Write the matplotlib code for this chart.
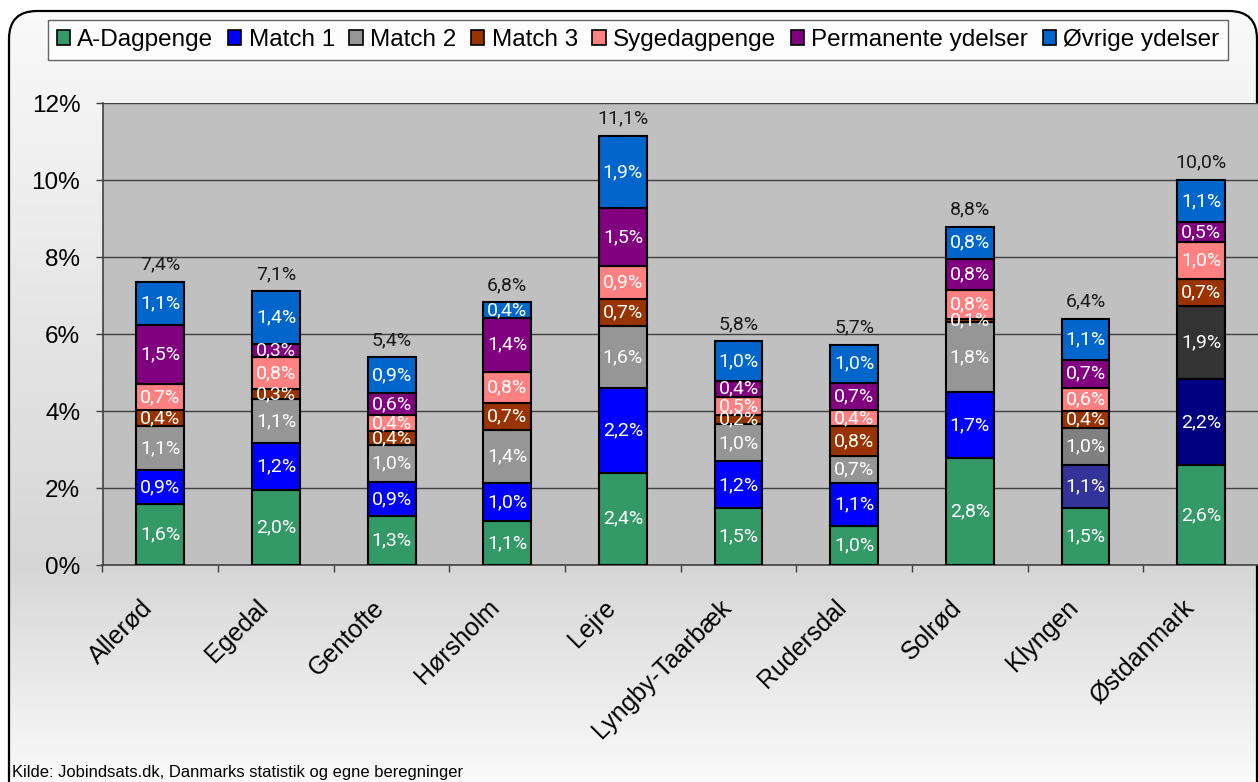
import numpy as np
import matplotlib.pyplot as plt
from matplotlib.patches import Patch, FancyBboxPatch
from matplotlib.colors import LinearSegmentedColormap
from matplotlib.ticker import FuncFormatter, MultipleLocator

categories = ["Allerød", "Egedal", "Gentofte", "Hørsholm", "Lejre",
              "Lyngby-Taarbæk", "Rudersdal", "Solrød", "Klyngen", "Østdanmark"]
series_names = ["A-Dagpenge", "Match 1", "Match 2", "Match 3",
                "Sygedagpenge", "Permanente ydelser", "Øvrige ydelser"]

# percent of population
a_dagpenge = [1.58, 1.96, 1.27, 1.13, 2.40, 1.47, 1.02, 2.77, 1.47, 2.60]
match1 = [0.88, 1.22, 0.88, 1.00, 2.20, 1.22, 1.10, 1.72, 1.12, 2.22]
match2 = [1.14, 1.12, 0.96, 1.37, 1.60, 0.96, 0.72, 1.82, 0.98, 1.90]
match3 = [0.42, 0.27, 0.38, 0.72, 0.70, 0.24, 0.76, 0.08, 0.44, 0.72]
sygedagpenge = [0.68, 0.84, 0.40, 0.80, 0.86, 0.48, 0.42, 0.76, 0.60, 0.96]
permanente = [1.54, 0.32, 0.58, 1.40, 1.50, 0.42, 0.72, 0.80, 0.72, 0.50]
ovrige = [1.12, 1.38, 0.92, 0.40, 1.88, 1.02, 0.98, 0.84, 1.06, 1.10]

series = [a_dagpenge, match1, match2, match3, sygedagpenge, permanente, ovrige]
colors = ["#339966", "#0000FF", "#969696", "#993300", "#FF8080", "#800080", "#0066CC"]
# Excel had a few points recoloured
special = {(8, 1): "#333399", (8, 2): "#808080", (9, 1): "#000080", (9, 2): "#333333"}

W, H = 1258, 782
fig = plt.figure(figsize=(W / 100, H / 100), dpi=100)
fig.patch.set_facecolor("white")

# background gradient inside the rounded frame
bg = fig.add_axes([0, 0, 1, 1], zorder=-5)
bg.set_axis_off()
cmap = LinearSegmentedColormap.from_list(
    "bg", [(0.0, "#FAFAFA"), (565 / H, "#D6D6D6"), (1.0, "#FAFAFA")])
grad = np.linspace(0, 1, H).reshape(-1, 1)
im = bg.imshow(grad, cmap=cmap, aspect="auto", extent=[0, W, H, 0], vmin=0, vmax=1)
bg.set_xlim(0, W)
bg.set_ylim(H, 0)
frame = FancyBboxPatch((9, 11), 1248, 800, boxstyle="round,pad=0,rounding_size=28",
                       transform=bg.transData, facecolor="none", edgecolor="black",
                       linewidth=1.6, zorder=3)
bg.add_patch(frame)
im.set_clip_path(frame)

ax = fig.add_axes([102.5 / W, 1 - 565 / H, (1259 - 102.5) / W, (565 - 103) / H])
ax.set_facecolor("#C0C0C0")

x = np.arange(len(categories))
bar_w = 0.413
bottom = np.zeros(len(categories))
lbl_font = dict(family="Roboto", fontsize=14)
for si, vals in enumerate(series):
    vals = np.array(vals)
    cols = [special.get((ci, si), colors[si]) for ci in range(len(categories))]
    ax.bar(x, vals, bar_w, bottom=bottom, color=cols, edgecolor="black",
           linewidth=1.5, zorder=3)
    for ci, v in enumerate(vals):
        ax.text(x[ci], bottom[ci] + v / 2, f"{v:.1f}%".replace(".", ","),
                ha="center", va="center", color="white", zorder=4, **lbl_font)
    bottom += vals

for ci, tot in enumerate(bottom):
    ax.annotate(f"{tot:.1f}%".replace(".", ","), (x[ci], tot), xytext=(0, 6),
                textcoords="offset points", ha="center", va="bottom",
                color="#1a1a1a", **lbl_font)

ax.set_xlim(-0.5, len(categories) - 0.5)
ax.set_ylim(0, 12)
ax.yaxis.set_major_locator(MultipleLocator(2))
ax.yaxis.set_major_formatter(FuncFormatter(lambda v, p: f"{v:.0f}%"))
ax.grid(axis="y", color="#404040", linewidth=1.0, zorder=1)
ax.set_axisbelow(True)

# label anchors sit a little left of the bar centre, as in Excel
ax.set_xticks(x - 0.1)
ax.set_xticklabels(categories, rotation=45, ha="right", va="center",
                   rotation_mode="anchor", fontsize=18, family="Liberation Sans")
ax.set_xticks(np.arange(-0.5, len(categories)), minor=True)
ax.tick_params(axis="x", which="major", length=0, pad=28)
ax.tick_params(axis="x", which="minor", length=5, width=1, color="#404040",
               direction="out")
ax.tick_params(axis="y", length=5, width=1, color="#404040", pad=11,
               labelsize=17.5)
for lab in ax.get_yticklabels():
    lab.set_family("Liberation Sans")

for s in ["top", "right"]:
    ax.spines[s].set_visible(False)
for s in ["left", "bottom"]:
    ax.spines[s].set_color("#404040")
    ax.spines[s].set_linewidth(1.2)

handles = [Patch(facecolor=c, edgecolor="black", linewidth=1.2) for c in colors]
leg = fig.legend(handles, series_names, loc="center", bbox_to_anchor=(638 / W, 1 - 40 / H),
                 ncol=7, frameon=True, fancybox=False,
                 handlelength=0.55, handleheight=0.55, handletextpad=0.3,
                 columnspacing=0.6, borderpad=0.35, borderaxespad=0,
                 prop={"family": "Liberation Sans", "size": 17.5})
leg.get_frame().set_edgecolor("#404040")
leg.get_frame().set_linewidth(1.0)

fig.text(12 / W, 1 - 777 / H, "Kilde: Jobindsats.dk, Danmarks statistik og egne beregninger",
         ha="left", va="baseline", fontsize=11.9, family="Liberation Sans")

fig.savefig("out.png", dpi=100)
